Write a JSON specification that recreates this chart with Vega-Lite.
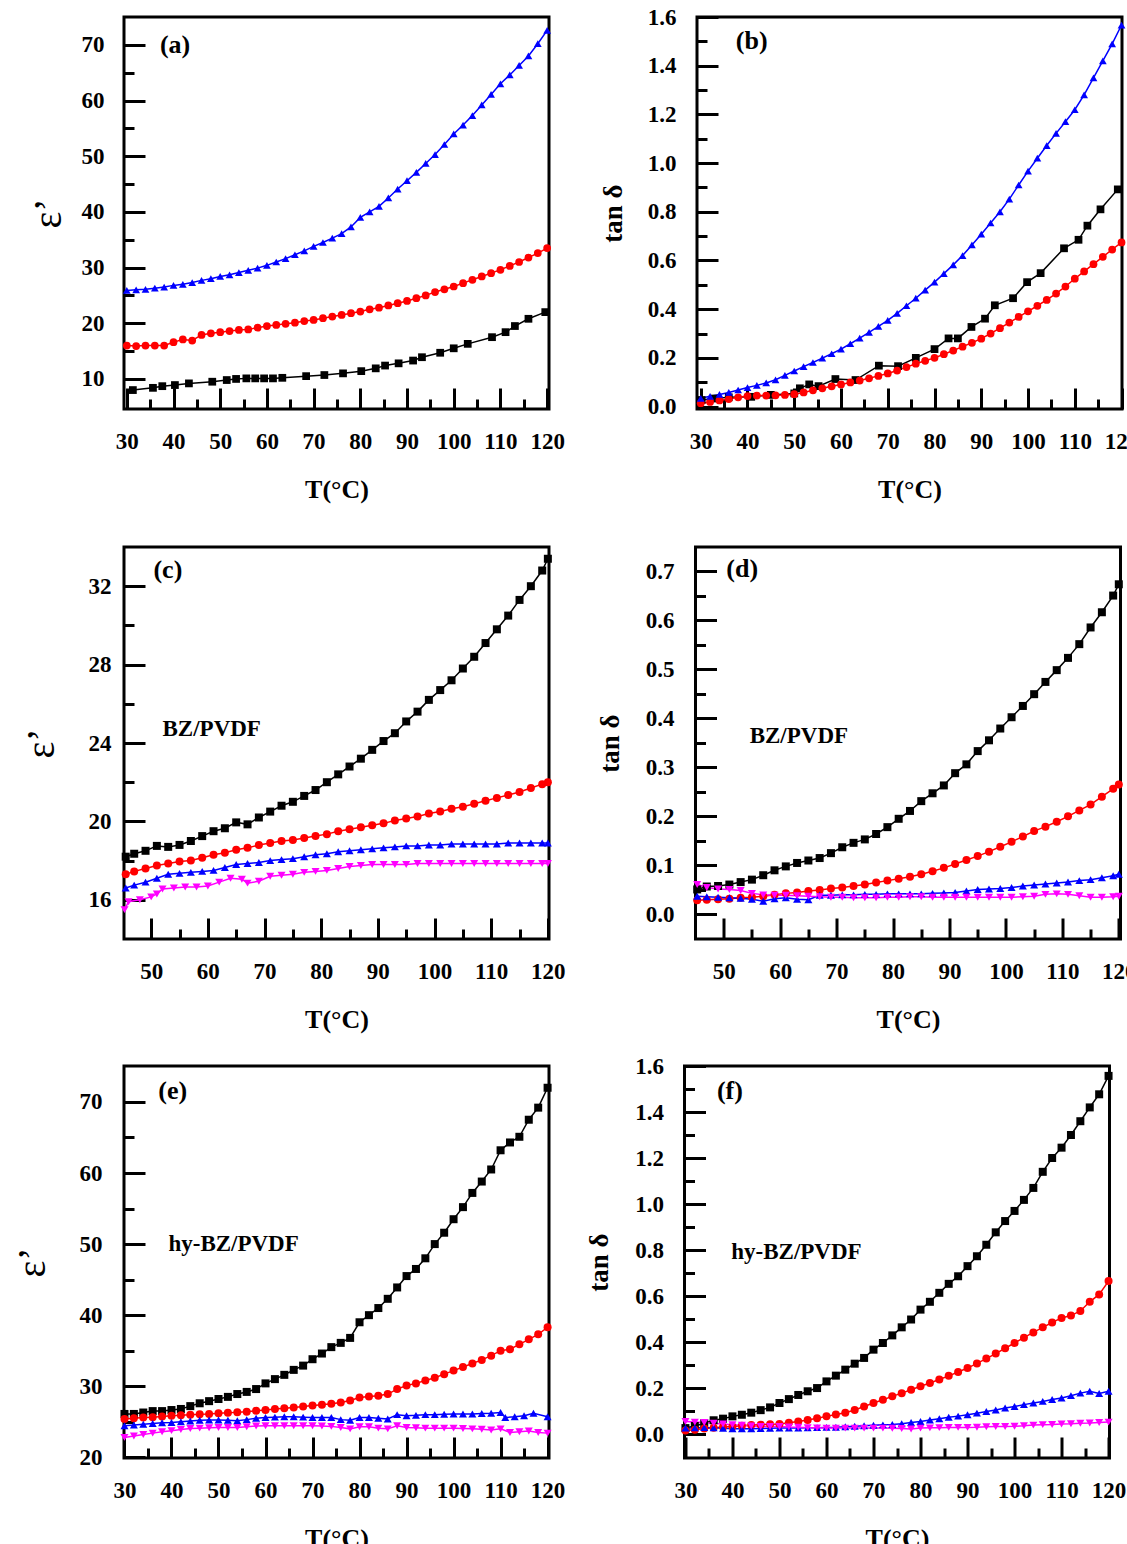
{
"$schema": "https://vega.github.io/schema/vega-lite/v6.json",
"background": "white",
"padding": {"left": 10, "top": 4, "right": 2, "bottom": 2},
"config": {
  "view": {"stroke": "black", "strokeWidth": 3},
  "axis": {"grid": false, "domain": false, "tickColor": "black", "tickWidth": 3, "tickSize": -21, "labelFont": "Liberation Serif", "labelFontWeight": "bold", "labelFontSize": 23, "labelColor": "black", "labelFlush": false, "labelOverlap": false, "titleFont": "Liberation Serif", "titleFontWeight": "bold", "titleColor": "black", "titleFontSize": 26},
  "legend": {"labelFont": "Liberation Serif", "labelFontWeight": "bold", "labelColor": "black", "padding": 0, "symbolSize": 64, "labelOffset": 30.5, "symbolStrokeWidth": 0, "symbolOpacity": 1}
},
"spacing": 41,
"resolve": {"scale": {"color": "independent", "shape": "independent"}, "legend": {"color": "independent", "shape": "independent"}},
"vconcat": [
{
"spacing": 31,
"resolve": {"scale": {"color": "independent", "shape": "independent"}, "legend": {"color": "independent", "shape": "independent"}},
"hconcat": [
{
 "width": 425, "height": 392,
 "data": {"values": [
{"T":31.3,"v":8.0,"s":"Pure PVDF"},{"T":35.6,"v":8.4,"s":"Pure PVDF"},{"T":37.6,"v":8.7,"s":"Pure PVDF"},{"T":40.3,"v":8.9,"s":"Pure PVDF"},{"T":43.3,"v":9.2,"s":"Pure PVDF"},{"T":48.3,"v":9.5,"s":"Pure PVDF"},{"T":51.4,"v":9.8,"s":"Pure PVDF"},{"T":53.4,"v":10.0,"s":"Pure PVDF"},{"T":55.6,"v":10.1,"s":"Pure PVDF"},{"T":57.5,"v":10.1,"s":"Pure PVDF"},{"T":59.4,"v":10.1,"s":"Pure PVDF"},{"T":61.3,"v":10.1,"s":"Pure PVDF"},{"T":63.3,"v":10.2,"s":"Pure PVDF"},{"T":68.4,"v":10.5,"s":"Pure PVDF"},{"T":72.3,"v":10.7,"s":"Pure PVDF"},{"T":76.3,"v":11.0,"s":"Pure PVDF"},{"T":80.2,"v":11.4,"s":"Pure PVDF"},{"T":83.3,"v":11.9,"s":"Pure PVDF"},{"T":85.3,"v":12.4,"s":"Pure PVDF"},{"T":88.2,"v":12.8,"s":"Pure PVDF"},{"T":91.3,"v":13.3,"s":"Pure PVDF"},{"T":93.2,"v":13.9,"s":"Pure PVDF"},{"T":97.1,"v":14.7,"s":"Pure PVDF"},{"T":100,"v":15.5,"s":"Pure PVDF"},{"T":103,"v":16.3,"s":"Pure PVDF"},{"T":108.2,"v":17.5,"s":"Pure PVDF"},{"T":111.1,"v":18.4,"s":"Pure PVDF"},{"T":113.1,"v":19.5,"s":"Pure PVDF"},{"T":116,"v":20.8,"s":"Pure PVDF"},{"T":119.6,"v":22.0,"s":"Pure PVDF"},
{"T":30,"v":16.0,"s":"BZ/PVDF"},{"T":32,"v":15.9,"s":"BZ/PVDF"},{"T":34,"v":16.0,"s":"BZ/PVDF"},{"T":36,"v":16.0,"s":"BZ/PVDF"},{"T":38,"v":16.0,"s":"BZ/PVDF"},{"T":40,"v":16.6,"s":"BZ/PVDF"},{"T":42,"v":17.1,"s":"BZ/PVDF"},{"T":44,"v":16.9,"s":"BZ/PVDF"},{"T":46,"v":17.9,"s":"BZ/PVDF"},{"T":48,"v":18.2,"s":"BZ/PVDF"},{"T":50,"v":18.4,"s":"BZ/PVDF"},{"T":52,"v":18.6,"s":"BZ/PVDF"},{"T":54,"v":18.8,"s":"BZ/PVDF"},{"T":56,"v":18.9,"s":"BZ/PVDF"},{"T":58,"v":19.2,"s":"BZ/PVDF"},{"T":60,"v":19.5,"s":"BZ/PVDF"},{"T":62,"v":19.7,"s":"BZ/PVDF"},{"T":64,"v":19.9,"s":"BZ/PVDF"},{"T":66,"v":20.1,"s":"BZ/PVDF"},{"T":68,"v":20.4,"s":"BZ/PVDF"},{"T":70,"v":20.6,"s":"BZ/PVDF"},{"T":72,"v":20.9,"s":"BZ/PVDF"},{"T":74,"v":21.2,"s":"BZ/PVDF"},{"T":76,"v":21.5,"s":"BZ/PVDF"},{"T":78,"v":21.8,"s":"BZ/PVDF"},{"T":80,"v":22.1,"s":"BZ/PVDF"},{"T":82,"v":22.5,"s":"BZ/PVDF"},{"T":84,"v":22.8,"s":"BZ/PVDF"},{"T":86,"v":23.2,"s":"BZ/PVDF"},{"T":88,"v":23.6,"s":"BZ/PVDF"},{"T":90,"v":24.0,"s":"BZ/PVDF"},{"T":92,"v":24.5,"s":"BZ/PVDF"},{"T":94,"v":25.0,"s":"BZ/PVDF"},{"T":96,"v":25.6,"s":"BZ/PVDF"},{"T":98,"v":26.1,"s":"BZ/PVDF"},{"T":100,"v":26.6,"s":"BZ/PVDF"},{"T":102,"v":27.2,"s":"BZ/PVDF"},{"T":104,"v":27.8,"s":"BZ/PVDF"},{"T":106,"v":28.4,"s":"BZ/PVDF"},{"T":108,"v":29.0,"s":"BZ/PVDF"},{"T":110,"v":29.6,"s":"BZ/PVDF"},{"T":112,"v":30.3,"s":"BZ/PVDF"},{"T":114,"v":31.0,"s":"BZ/PVDF"},{"T":116,"v":31.8,"s":"BZ/PVDF"},{"T":118,"v":32.6,"s":"BZ/PVDF"},{"T":120,"v":33.5,"s":"BZ/PVDF"},
{"T":30,"v":25.9,"s":"hy-BZ/PVDF"},{"T":32,"v":26.0,"s":"hy-BZ/PVDF"},{"T":34,"v":26.1,"s":"hy-BZ/PVDF"},{"T":36,"v":26.3,"s":"hy-BZ/PVDF"},{"T":38,"v":26.5,"s":"hy-BZ/PVDF"},{"T":40,"v":26.8,"s":"hy-BZ/PVDF"},{"T":42,"v":27.0,"s":"hy-BZ/PVDF"},{"T":44,"v":27.3,"s":"hy-BZ/PVDF"},{"T":46,"v":27.7,"s":"hy-BZ/PVDF"},{"T":48,"v":28.0,"s":"hy-BZ/PVDF"},{"T":50,"v":28.4,"s":"hy-BZ/PVDF"},{"T":52,"v":28.7,"s":"hy-BZ/PVDF"},{"T":54,"v":29.1,"s":"hy-BZ/PVDF"},{"T":56,"v":29.5,"s":"hy-BZ/PVDF"},{"T":58,"v":29.9,"s":"hy-BZ/PVDF"},{"T":60,"v":30.4,"s":"hy-BZ/PVDF"},{"T":62,"v":31.0,"s":"hy-BZ/PVDF"},{"T":64,"v":31.6,"s":"hy-BZ/PVDF"},{"T":66,"v":32.3,"s":"hy-BZ/PVDF"},{"T":68,"v":33.0,"s":"hy-BZ/PVDF"},{"T":70,"v":33.8,"s":"hy-BZ/PVDF"},{"T":72,"v":34.5,"s":"hy-BZ/PVDF"},{"T":74,"v":35.3,"s":"hy-BZ/PVDF"},{"T":76,"v":36.1,"s":"hy-BZ/PVDF"},{"T":78,"v":37.3,"s":"hy-BZ/PVDF"},{"T":80,"v":39.0,"s":"hy-BZ/PVDF"},{"T":82,"v":40.0,"s":"hy-BZ/PVDF"},{"T":84,"v":41.0,"s":"hy-BZ/PVDF"},{"T":86,"v":42.5,"s":"hy-BZ/PVDF"},{"T":88,"v":44.1,"s":"hy-BZ/PVDF"},{"T":90,"v":45.6,"s":"hy-BZ/PVDF"},{"T":92,"v":47.1,"s":"hy-BZ/PVDF"},{"T":94,"v":48.7,"s":"hy-BZ/PVDF"},{"T":96,"v":50.3,"s":"hy-BZ/PVDF"},{"T":98,"v":52.1,"s":"hy-BZ/PVDF"},{"T":100,"v":54.0,"s":"hy-BZ/PVDF"},{"T":102,"v":55.6,"s":"hy-BZ/PVDF"},{"T":104,"v":57.3,"s":"hy-BZ/PVDF"},{"T":106,"v":59.2,"s":"hy-BZ/PVDF"},{"T":108,"v":61.1,"s":"hy-BZ/PVDF"},{"T":110,"v":63.0,"s":"hy-BZ/PVDF"},{"T":112,"v":64.6,"s":"hy-BZ/PVDF"},{"T":114,"v":66.3,"s":"hy-BZ/PVDF"},{"T":116,"v":68.0,"s":"hy-BZ/PVDF"},{"T":118,"v":70.2,"s":"hy-BZ/PVDF"},{"T":120,"v":72.6,"s":"hy-BZ/PVDF"}
 ]},
 "encoding": {
  "x": {"field": "T", "type": "quantitative", "scale": {"domain": [29.4, 120.4], "nice": false, "zero": false},
        "axis": {"title": "T(°C)", "values": [30,35,40,45,50,55,60,65,70,75,80,85,90,95,100,105,110,115,120], "labelExpr": "datum.value % 10 === 0 ? datum.label : ''", "tickDash": {"condition": {"test": "datum.value % 10 === 0", "value": [30, 2]}, "value": [10, 40]}, "labelPadding": 42, "minExtent": 45, "maxExtent": 45, "titlePadding": 22}},
  "y": {"field": "v", "type": "quantitative", "scale": {"domain": [4.6, 75], "nice": false, "zero": false},
        "axis": {"title": "ε’", "titleFontSize": 40, "titleFontWeight": "normal", "values": [10,15,20,25,30,35,40,45,50,55,60,65,70], "labelExpr": "datum.value % 10 === 0 ? datum.label : ''", "tickDash": {"condition": {"test": "datum.value % 10 === 0", "value": [30, 2]}, "value": [10, 40]}, "labelPadding": 41, "minExtent": 45, "maxExtent": 45, "titlePadding": 11}}
 },
 "layer": [
  {"mark": {"type": "line", "strokeWidth": 1.5}, "encoding": {"color": {"field": "s", "type": "nominal", "scale": {"domain": ["Pure PVDF","BZ/PVDF","hy-BZ/PVDF"], "range": ["#000000","#ff0000","#0000ff"]}, "legend": null}}},
  {"mark": {"type": "point", "filled": true, "size": 60, "opacity": 1},
   "encoding": {
    "color": {"field": "s", "type": "nominal", "scale": {"domain": ["Pure PVDF","BZ/PVDF","hy-BZ/PVDF"], "range": ["#000000","#ff0000","#0000ff"]},
      "legend": {"title": null, "orient": "none", "legendX": 55.5, "legendY": 40, "labelFontSize": 24, "rowPadding": 8}},
    "shape": {"field": "s", "type": "nominal", "scale": {"domain": ["Pure PVDF","BZ/PVDF","hy-BZ/PVDF"], "range": ["square","circle","triangle-up"]},
      "legend": {"title": null, "orient": "none", "legendX": 55.5, "legendY": 40, "labelFontSize": 24, "rowPadding": 8}}
   }},
  {"data": {"values": [{"T": 37.1, "v": 69.9, "label": "(a)"}]}, "mark": {"type": "text", "font": "Liberation Serif", "fontWeight": "bold", "fontSize": 26, "align": "left", "baseline": "middle", "color": "black"},
   "encoding": {"text": {"field": "label", "type": "nominal"}}}
 ]
},
{
 "width": 425, "height": 392,
 "data": {"values": [
{"T":30.2,"v":0.027,"s":"Pure PVDF"},{"T":33,"v":0.033,"s":"Pure PVDF"},{"T":36,"v":0.038,"s":"Pure PVDF"},{"T":40.8,"v":0.04,"s":"Pure PVDF"},{"T":45,"v":0.048,"s":"Pure PVDF"},{"T":50,"v":0.054,"s":"Pure PVDF"},{"T":51.2,"v":0.075,"s":"Pure PVDF"},{"T":53.2,"v":0.091,"s":"Pure PVDF"},{"T":55.2,"v":0.084,"s":"Pure PVDF"},{"T":58.8,"v":0.113,"s":"Pure PVDF"},{"T":63.1,"v":0.109,"s":"Pure PVDF"},{"T":68.1,"v":0.168,"s":"Pure PVDF"},{"T":72.2,"v":0.166,"s":"Pure PVDF"},{"T":76,"v":0.2,"s":"Pure PVDF"},{"T":80,"v":0.236,"s":"Pure PVDF"},{"T":83,"v":0.28,"s":"Pure PVDF"},{"T":85,"v":0.28,"s":"Pure PVDF"},{"T":87.9,"v":0.327,"s":"Pure PVDF"},{"T":90.8,"v":0.361,"s":"Pure PVDF"},{"T":92.9,"v":0.416,"s":"Pure PVDF"},{"T":96.8,"v":0.445,"s":"Pure PVDF"},{"T":99.8,"v":0.511,"s":"Pure PVDF"},{"T":102.7,"v":0.548,"s":"Pure PVDF"},{"T":107.7,"v":0.65,"s":"Pure PVDF"},{"T":110.8,"v":0.685,"s":"Pure PVDF"},{"T":112.7,"v":0.743,"s":"Pure PVDF"},{"T":115.5,"v":0.81,"s":"Pure PVDF"},{"T":119.2,"v":0.892,"s":"Pure PVDF"},
{"T":30,"v":0.014,"s":"BZ/PVDF"},{"T":32,"v":0.019,"s":"BZ/PVDF"},{"T":34,"v":0.025,"s":"BZ/PVDF"},{"T":36,"v":0.031,"s":"BZ/PVDF"},{"T":38,"v":0.038,"s":"BZ/PVDF"},{"T":40,"v":0.043,"s":"BZ/PVDF"},{"T":42,"v":0.045,"s":"BZ/PVDF"},{"T":44,"v":0.045,"s":"BZ/PVDF"},{"T":46,"v":0.046,"s":"BZ/PVDF"},{"T":48,"v":0.048,"s":"BZ/PVDF"},{"T":50,"v":0.051,"s":"BZ/PVDF"},{"T":52,"v":0.058,"s":"BZ/PVDF"},{"T":54,"v":0.067,"s":"BZ/PVDF"},{"T":56,"v":0.075,"s":"BZ/PVDF"},{"T":58,"v":0.083,"s":"BZ/PVDF"},{"T":60,"v":0.091,"s":"BZ/PVDF"},{"T":62,"v":0.099,"s":"BZ/PVDF"},{"T":64,"v":0.107,"s":"BZ/PVDF"},{"T":66,"v":0.116,"s":"BZ/PVDF"},{"T":68,"v":0.126,"s":"BZ/PVDF"},{"T":70,"v":0.136,"s":"BZ/PVDF"},{"T":72,"v":0.148,"s":"BZ/PVDF"},{"T":74,"v":0.162,"s":"BZ/PVDF"},{"T":76,"v":0.176,"s":"BZ/PVDF"},{"T":78,"v":0.188,"s":"BZ/PVDF"},{"T":80,"v":0.2,"s":"BZ/PVDF"},{"T":82,"v":0.215,"s":"BZ/PVDF"},{"T":84,"v":0.23,"s":"BZ/PVDF"},{"T":86,"v":0.246,"s":"BZ/PVDF"},{"T":88,"v":0.262,"s":"BZ/PVDF"},{"T":90,"v":0.279,"s":"BZ/PVDF"},{"T":92,"v":0.3,"s":"BZ/PVDF"},{"T":94,"v":0.322,"s":"BZ/PVDF"},{"T":96,"v":0.345,"s":"BZ/PVDF"},{"T":98,"v":0.368,"s":"BZ/PVDF"},{"T":100,"v":0.391,"s":"BZ/PVDF"},{"T":102,"v":0.414,"s":"BZ/PVDF"},{"T":104,"v":0.438,"s":"BZ/PVDF"},{"T":106,"v":0.464,"s":"BZ/PVDF"},{"T":108,"v":0.493,"s":"BZ/PVDF"},{"T":110,"v":0.525,"s":"BZ/PVDF"},{"T":112,"v":0.555,"s":"BZ/PVDF"},{"T":114,"v":0.585,"s":"BZ/PVDF"},{"T":116,"v":0.615,"s":"BZ/PVDF"},{"T":118,"v":0.645,"s":"BZ/PVDF"},{"T":120,"v":0.674,"s":"BZ/PVDF"},
{"T":30,"v":0.034,"s":"hy-BZ/PVDF"},{"T":32,"v":0.042,"s":"hy-BZ/PVDF"},{"T":34,"v":0.05,"s":"hy-BZ/PVDF"},{"T":36,"v":0.058,"s":"hy-BZ/PVDF"},{"T":38,"v":0.068,"s":"hy-BZ/PVDF"},{"T":40,"v":0.078,"s":"hy-BZ/PVDF"},{"T":42,"v":0.087,"s":"hy-BZ/PVDF"},{"T":44,"v":0.097,"s":"hy-BZ/PVDF"},{"T":46,"v":0.11,"s":"hy-BZ/PVDF"},{"T":48,"v":0.128,"s":"hy-BZ/PVDF"},{"T":50,"v":0.146,"s":"hy-BZ/PVDF"},{"T":52,"v":0.164,"s":"hy-BZ/PVDF"},{"T":54,"v":0.181,"s":"hy-BZ/PVDF"},{"T":56,"v":0.199,"s":"hy-BZ/PVDF"},{"T":58,"v":0.217,"s":"hy-BZ/PVDF"},{"T":60,"v":0.236,"s":"hy-BZ/PVDF"},{"T":62,"v":0.258,"s":"hy-BZ/PVDF"},{"T":64,"v":0.281,"s":"hy-BZ/PVDF"},{"T":66,"v":0.305,"s":"hy-BZ/PVDF"},{"T":68,"v":0.329,"s":"hy-BZ/PVDF"},{"T":70,"v":0.354,"s":"hy-BZ/PVDF"},{"T":72,"v":0.383,"s":"hy-BZ/PVDF"},{"T":74,"v":0.414,"s":"hy-BZ/PVDF"},{"T":76,"v":0.445,"s":"hy-BZ/PVDF"},{"T":78,"v":0.478,"s":"hy-BZ/PVDF"},{"T":80,"v":0.511,"s":"hy-BZ/PVDF"},{"T":82,"v":0.546,"s":"hy-BZ/PVDF"},{"T":84,"v":0.582,"s":"hy-BZ/PVDF"},{"T":86,"v":0.62,"s":"hy-BZ/PVDF"},{"T":88,"v":0.664,"s":"hy-BZ/PVDF"},{"T":90,"v":0.708,"s":"hy-BZ/PVDF"},{"T":92,"v":0.754,"s":"hy-BZ/PVDF"},{"T":94,"v":0.8,"s":"hy-BZ/PVDF"},{"T":96,"v":0.852,"s":"hy-BZ/PVDF"},{"T":98,"v":0.91,"s":"hy-BZ/PVDF"},{"T":100,"v":0.967,"s":"hy-BZ/PVDF"},{"T":102,"v":1.02,"s":"hy-BZ/PVDF"},{"T":104,"v":1.072,"s":"hy-BZ/PVDF"},{"T":106,"v":1.122,"s":"hy-BZ/PVDF"},{"T":108,"v":1.17,"s":"hy-BZ/PVDF"},{"T":110,"v":1.219,"s":"hy-BZ/PVDF"},{"T":112,"v":1.28,"s":"hy-BZ/PVDF"},{"T":114,"v":1.35,"s":"hy-BZ/PVDF"},{"T":116,"v":1.42,"s":"hy-BZ/PVDF"},{"T":118,"v":1.49,"s":"hy-BZ/PVDF"},{"T":120,"v":1.567,"s":"hy-BZ/PVDF"}
 ]},
 "encoding": {
  "x": {"field": "T", "type": "quantitative", "scale": {"domain": [29.2, 120.1], "nice": false, "zero": false},
        "axis": {"title": "T(°C)", "values": [30,35,40,45,50,55,60,65,70,75,80,85,90,95,100,105,110,115,120], "labelExpr": "datum.value % 10 === 0 ? datum.label : ''", "tickDash": {"condition": {"test": "datum.value % 10 === 0", "value": [30, 2]}, "value": [10, 40]}, "labelPadding": 42, "minExtent": 45, "maxExtent": 45, "titlePadding": 22}},
  "y": {"field": "v", "type": "quantitative", "scale": {"domain": [-0.01, 1.6], "nice": false, "zero": false},
        "axis": {"title": "tan δ", "titleFontSize": 27, "values": [0,0.1,0.2,0.3,0.4,0.5,0.6,0.7,0.8,0.9,1.0,1.1,1.2,1.3,1.4,1.5,1.6], "format": ".1f", "labelExpr": "round(datum.value*10) % 2 === 0 ? datum.label : ''", "tickDash": {"condition": {"test": "round(datum.value*10) % 2 === 0", "value": [30, 2]}, "value": [10, 40]}, "labelPadding": 42, "minExtent": 45, "maxExtent": 45, "titlePadding": 25}}
 },
 "layer": [
  {"mark": {"type": "line", "strokeWidth": 1.5}, "encoding": {"color": {"field": "s", "type": "nominal", "scale": {"domain": ["Pure PVDF","BZ/PVDF","hy-BZ/PVDF"], "range": ["#000000","#ff0000","#0000ff"]}, "legend": null}}},
  {"mark": {"type": "point", "filled": true, "size": 60, "opacity": 1},
   "encoding": {
    "color": {"field": "s", "type": "nominal", "scale": {"domain": ["Pure PVDF","BZ/PVDF","hy-BZ/PVDF"], "range": ["#000000","#ff0000","#0000ff"]},
      "legend": {"title": null, "orient": "none", "legendX": 81.5, "legendY": 53, "labelFontSize": 24, "rowPadding": 8}},
    "shape": {"field": "s", "type": "nominal", "scale": {"domain": ["Pure PVDF","BZ/PVDF","hy-BZ/PVDF"], "range": ["square","circle","triangle-up"]},
      "legend": {"title": null, "orient": "none", "legendX": 81.5, "legendY": 53, "labelFontSize": 24, "rowPadding": 8}}
   }},
  {"data": {"values": [{"T": 37.5, "v": 1.5, "label": "(b)"}]}, "mark": {"type": "text", "font": "Liberation Serif", "fontWeight": "bold", "fontSize": 26, "align": "left", "baseline": "middle", "color": "black"},
   "encoding": {"text": {"field": "label", "type": "nominal"}}}
 ]
}
]
},
{
"spacing": 19,
"resolve": {"scale": {"color": "independent", "shape": "independent"}, "legend": {"color": "independent", "shape": "independent"}},
"vconcat": [
{
"spacing": 27.5,
"resolve": {"scale": {"color": "independent", "shape": "independent"}, "legend": {"color": "independent", "shape": "independent"}},
"hconcat": [
{
 "width": 425, "height": 392,
 "data": {"values": [
{"T":45.5,"v":18.2,"s":"1 KHz"},{"T":47,"v":18.35,"s":"1 KHz"},{"T":49,"v":18.5,"s":"1 KHz"},{"T":51,"v":18.75,"s":"1 KHz"},{"T":53,"v":18.7,"s":"1 KHz"},{"T":55,"v":18.8,"s":"1 KHz"},{"T":57,"v":19.0,"s":"1 KHz"},{"T":59,"v":19.25,"s":"1 KHz"},{"T":61,"v":19.5,"s":"1 KHz"},{"T":63,"v":19.65,"s":"1 KHz"},{"T":65,"v":19.95,"s":"1 KHz"},{"T":67,"v":19.85,"s":"1 KHz"},{"T":69,"v":20.2,"s":"1 KHz"},{"T":71,"v":20.5,"s":"1 KHz"},{"T":73,"v":20.8,"s":"1 KHz"},{"T":75,"v":21.0,"s":"1 KHz"},{"T":77,"v":21.3,"s":"1 KHz"},{"T":79,"v":21.6,"s":"1 KHz"},{"T":81,"v":22.0,"s":"1 KHz"},{"T":83,"v":22.4,"s":"1 KHz"},{"T":85,"v":22.8,"s":"1 KHz"},{"T":87,"v":23.2,"s":"1 KHz"},{"T":89,"v":23.65,"s":"1 KHz"},{"T":91,"v":24.1,"s":"1 KHz"},{"T":93,"v":24.5,"s":"1 KHz"},{"T":95,"v":25.1,"s":"1 KHz"},{"T":97,"v":25.6,"s":"1 KHz"},{"T":99,"v":26.2,"s":"1 KHz"},{"T":101,"v":26.7,"s":"1 KHz"},{"T":103,"v":27.2,"s":"1 KHz"},{"T":105,"v":27.8,"s":"1 KHz"},{"T":107,"v":28.4,"s":"1 KHz"},{"T":109,"v":29.1,"s":"1 KHz"},{"T":111,"v":29.8,"s":"1 KHz"},{"T":113,"v":30.5,"s":"1 KHz"},{"T":115,"v":31.3,"s":"1 KHz"},{"T":117,"v":32.0,"s":"1 KHz"},{"T":119,"v":32.8,"s":"1 KHz"},{"T":120,"v":33.4,"s":"1 KHz"},
{"T":45.5,"v":17.3,"s":"10 KHz"},{"T":47,"v":17.45,"s":"10 KHz"},{"T":49,"v":17.6,"s":"10 KHz"},{"T":51,"v":17.75,"s":"10 KHz"},{"T":53,"v":17.85,"s":"10 KHz"},{"T":55,"v":17.95,"s":"10 KHz"},{"T":57,"v":18.0,"s":"10 KHz"},{"T":59,"v":18.15,"s":"10 KHz"},{"T":61,"v":18.3,"s":"10 KHz"},{"T":63,"v":18.4,"s":"10 KHz"},{"T":65,"v":18.55,"s":"10 KHz"},{"T":67,"v":18.65,"s":"10 KHz"},{"T":69,"v":18.8,"s":"10 KHz"},{"T":71,"v":18.9,"s":"10 KHz"},{"T":73,"v":19.0,"s":"10 KHz"},{"T":75,"v":19.05,"s":"10 KHz"},{"T":77,"v":19.15,"s":"10 KHz"},{"T":79,"v":19.25,"s":"10 KHz"},{"T":81,"v":19.35,"s":"10 KHz"},{"T":83,"v":19.5,"s":"10 KHz"},{"T":85,"v":19.6,"s":"10 KHz"},{"T":87,"v":19.7,"s":"10 KHz"},{"T":89,"v":19.8,"s":"10 KHz"},{"T":91,"v":19.9,"s":"10 KHz"},{"T":93,"v":20.05,"s":"10 KHz"},{"T":95,"v":20.15,"s":"10 KHz"},{"T":97,"v":20.25,"s":"10 KHz"},{"T":99,"v":20.4,"s":"10 KHz"},{"T":101,"v":20.5,"s":"10 KHz"},{"T":103,"v":20.65,"s":"10 KHz"},{"T":105,"v":20.75,"s":"10 KHz"},{"T":107,"v":20.9,"s":"10 KHz"},{"T":109,"v":21.05,"s":"10 KHz"},{"T":111,"v":21.2,"s":"10 KHz"},{"T":113,"v":21.35,"s":"10 KHz"},{"T":115,"v":21.5,"s":"10 KHz"},{"T":117,"v":21.7,"s":"10 KHz"},{"T":119,"v":21.9,"s":"10 KHz"},{"T":120,"v":22.0,"s":"10 KHz"},
{"T":45.5,"v":16.6,"s":"100 KHz"},{"T":47,"v":16.75,"s":"100 KHz"},{"T":49,"v":16.9,"s":"100 KHz"},{"T":51,"v":17.1,"s":"100 KHz"},{"T":53,"v":17.3,"s":"100 KHz"},{"T":55,"v":17.35,"s":"100 KHz"},{"T":57,"v":17.4,"s":"100 KHz"},{"T":59,"v":17.45,"s":"100 KHz"},{"T":61,"v":17.5,"s":"100 KHz"},{"T":63,"v":17.65,"s":"100 KHz"},{"T":65,"v":17.8,"s":"100 KHz"},{"T":67,"v":17.85,"s":"100 KHz"},{"T":69,"v":17.9,"s":"100 KHz"},{"T":71,"v":18.0,"s":"100 KHz"},{"T":73,"v":18.05,"s":"100 KHz"},{"T":75,"v":18.1,"s":"100 KHz"},{"T":77,"v":18.2,"s":"100 KHz"},{"T":79,"v":18.3,"s":"100 KHz"},{"T":81,"v":18.35,"s":"100 KHz"},{"T":83,"v":18.45,"s":"100 KHz"},{"T":85,"v":18.5,"s":"100 KHz"},{"T":87,"v":18.55,"s":"100 KHz"},{"T":89,"v":18.6,"s":"100 KHz"},{"T":91,"v":18.65,"s":"100 KHz"},{"T":93,"v":18.7,"s":"100 KHz"},{"T":95,"v":18.75,"s":"100 KHz"},{"T":97,"v":18.75,"s":"100 KHz"},{"T":99,"v":18.8,"s":"100 KHz"},{"T":101,"v":18.8,"s":"100 KHz"},{"T":103,"v":18.85,"s":"100 KHz"},{"T":105,"v":18.85,"s":"100 KHz"},{"T":107,"v":18.85,"s":"100 KHz"},{"T":109,"v":18.85,"s":"100 KHz"},{"T":111,"v":18.85,"s":"100 KHz"},{"T":113,"v":18.9,"s":"100 KHz"},{"T":115,"v":18.9,"s":"100 KHz"},{"T":117,"v":18.9,"s":"100 KHz"},{"T":119,"v":18.9,"s":"100 KHz"},{"T":120,"v":18.9,"s":"100 KHz"},
{"T":45.3,"v":15.5,"s":"1 MHz"},{"T":46,"v":15.9,"s":"1 MHz"},{"T":48,"v":16.0,"s":"1 MHz"},{"T":50,"v":16.15,"s":"1 MHz"},{"T":51,"v":16.3,"s":"1 MHz"},{"T":52,"v":16.55,"s":"1 MHz"},{"T":54,"v":16.6,"s":"1 MHz"},{"T":56,"v":16.65,"s":"1 MHz"},{"T":58,"v":16.65,"s":"1 MHz"},{"T":60,"v":16.7,"s":"1 MHz"},{"T":62,"v":16.9,"s":"1 MHz"},{"T":64,"v":17.1,"s":"1 MHz"},{"T":66,"v":17.05,"s":"1 MHz"},{"T":67,"v":16.85,"s":"1 MHz"},{"T":69,"v":16.95,"s":"1 MHz"},{"T":71,"v":17.2,"s":"1 MHz"},{"T":73,"v":17.25,"s":"1 MHz"},{"T":75,"v":17.3,"s":"1 MHz"},{"T":77,"v":17.4,"s":"1 MHz"},{"T":79,"v":17.45,"s":"1 MHz"},{"T":81,"v":17.5,"s":"1 MHz"},{"T":83,"v":17.6,"s":"1 MHz"},{"T":85,"v":17.7,"s":"1 MHz"},{"T":87,"v":17.75,"s":"1 MHz"},{"T":89,"v":17.8,"s":"1 MHz"},{"T":91,"v":17.8,"s":"1 MHz"},{"T":93,"v":17.8,"s":"1 MHz"},{"T":95,"v":17.8,"s":"1 MHz"},{"T":97,"v":17.85,"s":"1 MHz"},{"T":99,"v":17.85,"s":"1 MHz"},{"T":101,"v":17.85,"s":"1 MHz"},{"T":103,"v":17.85,"s":"1 MHz"},{"T":105,"v":17.85,"s":"1 MHz"},{"T":107,"v":17.85,"s":"1 MHz"},{"T":109,"v":17.85,"s":"1 MHz"},{"T":111,"v":17.85,"s":"1 MHz"},{"T":113,"v":17.85,"s":"1 MHz"},{"T":115,"v":17.85,"s":"1 MHz"},{"T":117,"v":17.85,"s":"1 MHz"},{"T":119,"v":17.85,"s":"1 MHz"},{"T":120,"v":17.85,"s":"1 MHz"}
 ]},
 "encoding": {
  "x": {"field": "T", "type": "quantitative", "scale": {"domain": [45.2, 120.2], "nice": false, "zero": false},
        "axis": {"title": "T(°C)", "values": [50,55,60,65,70,75,80,85,90,95,100,105,110,115,120], "labelExpr": "datum.value % 10 === 0 ? datum.label : ''", "tickDash": {"condition": {"test": "datum.value % 10 === 0", "value": [30, 2]}, "value": [10, 40]}, "labelPadding": 42, "minExtent": 45, "maxExtent": 45, "titlePadding": 22}},
  "y": {"field": "v", "type": "quantitative", "scale": {"domain": [14, 34], "nice": false, "zero": false},
        "axis": {"title": "ε’", "titleFontSize": 40, "titleFontWeight": "normal", "values": [16,18,20,22,24,26,28,30,32], "labelExpr": "datum.value % 4 === 0 ? datum.label : ''", "tickDash": {"condition": {"test": "datum.value % 4 === 0", "value": [30, 2]}, "value": [10, 40]}, "labelPadding": 34, "minExtent": 45, "maxExtent": 45, "titlePadding": 18}}
 },
 "layer": [
  {"mark": {"type": "line", "strokeWidth": 1.5}, "encoding": {"color": {"field": "s", "type": "nominal", "scale": {"domain": ["1 KHz","10 KHz","100 KHz","1 MHz"], "range": ["#000000","#ff0000","#0000ff","#ff00ff"]}, "legend": null}}},
  {"mark": {"type": "point", "filled": true, "size": 64, "opacity": 1},
   "encoding": {
    "color": {"field": "s", "type": "nominal", "scale": {"domain": ["1 KHz","10 KHz","100 KHz","1 MHz"], "range": ["#000000","#ff0000","#0000ff","#ff00ff"]},
      "legend": {"title": null, "orient": "none", "legendX": 175.5, "legendY": 15, "labelFontSize": 20, "rowPadding": 11}},
    "shape": {"field": "s", "type": "nominal", "scale": {"domain": ["1 KHz","10 KHz","100 KHz","1 MHz"], "range": ["square","circle","triangle-up","triangle-down"]},
      "legend": {"title": null, "orient": "none", "legendX": 175.5, "legendY": 15, "labelFontSize": 20, "rowPadding": 11}}
   }},
  {"data": {"values": [{"T": 50.4, "v": 32.85, "label": "(c)"}]}, "mark": {"type": "text", "font": "Liberation Serif", "fontWeight": "bold", "fontSize": 26, "align": "left", "baseline": "middle", "color": "black"},
   "encoding": {"text": {"field": "label", "type": "nominal"}}},
  {"data": {"values": [{"T": 52.0, "v": 24.7, "label": "BZ/PVDF"}]}, "mark": {"type": "text", "font": "Liberation Serif", "fontWeight": "bold", "fontSize": 23, "align": "left", "baseline": "middle", "color": "black"},
   "encoding": {"text": {"field": "label", "type": "nominal"}}}
 ]
},
{
 "width": 425, "height": 392,
 "data": {"values": [
{"T":45.3,"v":0.051,"s":"1 KHz"},{"T":47,"v":0.057,"s":"1 KHz"},{"T":49,"v":0.058,"s":"1 KHz"},{"T":51,"v":0.061,"s":"1 KHz"},{"T":53,"v":0.066,"s":"1 KHz"},{"T":55,"v":0.071,"s":"1 KHz"},{"T":57,"v":0.08,"s":"1 KHz"},{"T":59,"v":0.09,"s":"1 KHz"},{"T":61,"v":0.098,"s":"1 KHz"},{"T":63,"v":0.105,"s":"1 KHz"},{"T":65,"v":0.11,"s":"1 KHz"},{"T":67,"v":0.115,"s":"1 KHz"},{"T":69,"v":0.125,"s":"1 KHz"},{"T":71,"v":0.137,"s":"1 KHz"},{"T":73,"v":0.146,"s":"1 KHz"},{"T":75,"v":0.153,"s":"1 KHz"},{"T":77,"v":0.164,"s":"1 KHz"},{"T":79,"v":0.178,"s":"1 KHz"},{"T":81,"v":0.195,"s":"1 KHz"},{"T":83,"v":0.211,"s":"1 KHz"},{"T":85,"v":0.231,"s":"1 KHz"},{"T":87,"v":0.247,"s":"1 KHz"},{"T":89,"v":0.263,"s":"1 KHz"},{"T":91,"v":0.288,"s":"1 KHz"},{"T":93,"v":0.306,"s":"1 KHz"},{"T":95,"v":0.333,"s":"1 KHz"},{"T":97,"v":0.355,"s":"1 KHz"},{"T":99,"v":0.379,"s":"1 KHz"},{"T":101,"v":0.402,"s":"1 KHz"},{"T":103,"v":0.425,"s":"1 KHz"},{"T":105,"v":0.449,"s":"1 KHz"},{"T":107,"v":0.474,"s":"1 KHz"},{"T":109,"v":0.498,"s":"1 KHz"},{"T":111,"v":0.523,"s":"1 KHz"},{"T":113,"v":0.551,"s":"1 KHz"},{"T":115,"v":0.585,"s":"1 KHz"},{"T":117,"v":0.616,"s":"1 KHz"},{"T":119,"v":0.65,"s":"1 KHz"},{"T":120,"v":0.673,"s":"1 KHz"},
{"T":45.3,"v":0.029,"s":"10 KHz"},{"T":47,"v":0.03,"s":"10 KHz"},{"T":49,"v":0.031,"s":"10 KHz"},{"T":51,"v":0.032,"s":"10 KHz"},{"T":53,"v":0.034,"s":"10 KHz"},{"T":55,"v":0.035,"s":"10 KHz"},{"T":57,"v":0.037,"s":"10 KHz"},{"T":59,"v":0.04,"s":"10 KHz"},{"T":61,"v":0.043,"s":"10 KHz"},{"T":63,"v":0.045,"s":"10 KHz"},{"T":65,"v":0.048,"s":"10 KHz"},{"T":67,"v":0.05,"s":"10 KHz"},{"T":69,"v":0.053,"s":"10 KHz"},{"T":71,"v":0.055,"s":"10 KHz"},{"T":73,"v":0.058,"s":"10 KHz"},{"T":75,"v":0.061,"s":"10 KHz"},{"T":77,"v":0.065,"s":"10 KHz"},{"T":79,"v":0.069,"s":"10 KHz"},{"T":81,"v":0.073,"s":"10 KHz"},{"T":83,"v":0.077,"s":"10 KHz"},{"T":85,"v":0.082,"s":"10 KHz"},{"T":87,"v":0.088,"s":"10 KHz"},{"T":89,"v":0.095,"s":"10 KHz"},{"T":91,"v":0.103,"s":"10 KHz"},{"T":93,"v":0.111,"s":"10 KHz"},{"T":95,"v":0.119,"s":"10 KHz"},{"T":97,"v":0.128,"s":"10 KHz"},{"T":99,"v":0.138,"s":"10 KHz"},{"T":101,"v":0.148,"s":"10 KHz"},{"T":103,"v":0.159,"s":"10 KHz"},{"T":105,"v":0.17,"s":"10 KHz"},{"T":107,"v":0.179,"s":"10 KHz"},{"T":109,"v":0.189,"s":"10 KHz"},{"T":111,"v":0.2,"s":"10 KHz"},{"T":113,"v":0.212,"s":"10 KHz"},{"T":115,"v":0.224,"s":"10 KHz"},{"T":117,"v":0.24,"s":"10 KHz"},{"T":119,"v":0.256,"s":"10 KHz"},{"T":120,"v":0.265,"s":"10 KHz"},
{"T":45.3,"v":0.037,"s":"100 KHz"},{"T":47,"v":0.036,"s":"100 KHz"},{"T":49,"v":0.035,"s":"100 KHz"},{"T":51,"v":0.034,"s":"100 KHz"},{"T":53,"v":0.033,"s":"100 KHz"},{"T":55,"v":0.031,"s":"100 KHz"},{"T":57,"v":0.027,"s":"100 KHz"},{"T":59,"v":0.032,"s":"100 KHz"},{"T":61,"v":0.034,"s":"100 KHz"},{"T":63,"v":0.031,"s":"100 KHz"},{"T":65,"v":0.03,"s":"100 KHz"},{"T":67,"v":0.039,"s":"100 KHz"},{"T":69,"v":0.039,"s":"100 KHz"},{"T":71,"v":0.04,"s":"100 KHz"},{"T":73,"v":0.04,"s":"100 KHz"},{"T":75,"v":0.041,"s":"100 KHz"},{"T":77,"v":0.041,"s":"100 KHz"},{"T":79,"v":0.042,"s":"100 KHz"},{"T":81,"v":0.042,"s":"100 KHz"},{"T":83,"v":0.042,"s":"100 KHz"},{"T":85,"v":0.042,"s":"100 KHz"},{"T":87,"v":0.043,"s":"100 KHz"},{"T":89,"v":0.044,"s":"100 KHz"},{"T":91,"v":0.045,"s":"100 KHz"},{"T":93,"v":0.048,"s":"100 KHz"},{"T":95,"v":0.051,"s":"100 KHz"},{"T":97,"v":0.052,"s":"100 KHz"},{"T":99,"v":0.053,"s":"100 KHz"},{"T":101,"v":0.055,"s":"100 KHz"},{"T":103,"v":0.058,"s":"100 KHz"},{"T":105,"v":0.06,"s":"100 KHz"},{"T":107,"v":0.062,"s":"100 KHz"},{"T":109,"v":0.064,"s":"100 KHz"},{"T":111,"v":0.066,"s":"100 KHz"},{"T":113,"v":0.069,"s":"100 KHz"},{"T":115,"v":0.071,"s":"100 KHz"},{"T":117,"v":0.075,"s":"100 KHz"},{"T":119,"v":0.079,"s":"100 KHz"},{"T":120,"v":0.082,"s":"100 KHz"},
{"T":45.3,"v":0.061,"s":"1 MHz"},{"T":47,"v":0.055,"s":"1 MHz"},{"T":49,"v":0.052,"s":"1 MHz"},{"T":51,"v":0.051,"s":"1 MHz"},{"T":53,"v":0.049,"s":"1 MHz"},{"T":55,"v":0.043,"s":"1 MHz"},{"T":57,"v":0.04,"s":"1 MHz"},{"T":59,"v":0.039,"s":"1 MHz"},{"T":61,"v":0.039,"s":"1 MHz"},{"T":63,"v":0.038,"s":"1 MHz"},{"T":65,"v":0.037,"s":"1 MHz"},{"T":67,"v":0.036,"s":"1 MHz"},{"T":69,"v":0.035,"s":"1 MHz"},{"T":71,"v":0.035,"s":"1 MHz"},{"T":73,"v":0.034,"s":"1 MHz"},{"T":75,"v":0.034,"s":"1 MHz"},{"T":77,"v":0.034,"s":"1 MHz"},{"T":79,"v":0.035,"s":"1 MHz"},{"T":81,"v":0.035,"s":"1 MHz"},{"T":83,"v":0.036,"s":"1 MHz"},{"T":85,"v":0.036,"s":"1 MHz"},{"T":87,"v":0.035,"s":"1 MHz"},{"T":89,"v":0.035,"s":"1 MHz"},{"T":91,"v":0.035,"s":"1 MHz"},{"T":93,"v":0.035,"s":"1 MHz"},{"T":95,"v":0.035,"s":"1 MHz"},{"T":97,"v":0.035,"s":"1 MHz"},{"T":99,"v":0.035,"s":"1 MHz"},{"T":101,"v":0.035,"s":"1 MHz"},{"T":103,"v":0.036,"s":"1 MHz"},{"T":105,"v":0.037,"s":"1 MHz"},{"T":107,"v":0.041,"s":"1 MHz"},{"T":109,"v":0.042,"s":"1 MHz"},{"T":111,"v":0.041,"s":"1 MHz"},{"T":113,"v":0.038,"s":"1 MHz"},{"T":115,"v":0.035,"s":"1 MHz"},{"T":117,"v":0.035,"s":"1 MHz"},{"T":119,"v":0.036,"s":"1 MHz"},{"T":120,"v":0.037,"s":"1 MHz"}
 ]},
 "encoding": {
  "x": {"field": "T", "type": "quantitative", "scale": {"domain": [45.0, 120.3], "nice": false, "zero": false},
        "axis": {"title": "T(°C)", "values": [50,55,60,65,70,75,80,85,90,95,100,105,110,115,120], "labelExpr": "datum.value % 10 === 0 ? datum.label : ''", "tickDash": {"condition": {"test": "datum.value % 10 === 0", "value": [30, 2]}, "value": [10, 40]}, "labelPadding": 42, "minExtent": 45, "maxExtent": 45, "titlePadding": 22}},
  "y": {"field": "v", "type": "quantitative", "scale": {"domain": [-0.05, 0.749], "nice": false, "zero": false},
        "axis": {"title": "tan δ", "titleFontSize": 27, "values": [0,0.05,0.1,0.15,0.2,0.25,0.3,0.35,0.4,0.45,0.5,0.55,0.6,0.65,0.7], "format": ".1f", "labelExpr": "round(datum.value*100) % 10 === 0 ? datum.label : ''", "tickDash": {"condition": {"test": "round(datum.value*100) % 10 === 0", "value": [30, 2]}, "value": [10, 40]}, "labelPadding": 42.5, "minExtent": 45, "maxExtent": 45, "titlePadding": 26.5}}
 },
 "layer": [
  {"mark": {"type": "line", "strokeWidth": 1.5}, "encoding": {"color": {"field": "s", "type": "nominal", "scale": {"domain": ["1 KHz","10 KHz","100 KHz","1 MHz"], "range": ["#000000","#ff0000","#0000ff","#ff00ff"]}, "legend": null}}},
  {"mark": {"type": "point", "filled": true, "size": 64, "opacity": 1},
   "encoding": {
    "color": {"field": "s", "type": "nominal", "scale": {"domain": ["1 KHz","10 KHz","100 KHz","1 MHz"], "range": ["#000000","#ff0000","#0000ff","#ff00ff"]},
      "legend": {"title": null, "orient": "none", "legendX": 189.5, "legendY": 9, "labelFontSize": 20, "rowPadding": 11}},
    "shape": {"field": "s", "type": "nominal", "scale": {"domain": ["1 KHz","10 KHz","100 KHz","1 MHz"], "range": ["square","circle","triangle-up","triangle-down"]},
      "legend": {"title": null, "orient": "none", "legendX": 189.5, "legendY": 9, "labelFontSize": 20, "rowPadding": 11}}
   }},
  {"data": {"values": [{"T": 50.45, "v": 0.704, "label": "(d)"}]}, "mark": {"type": "text", "font": "Liberation Serif", "fontWeight": "bold", "fontSize": 26, "align": "left", "baseline": "middle", "color": "black"},
   "encoding": {"text": {"field": "label", "type": "nominal"}}},
  {"data": {"values": [{"T": 54.6, "v": 0.364, "label": "BZ/PVDF"}]}, "mark": {"type": "text", "font": "Liberation Serif", "fontWeight": "bold", "fontSize": 23, "align": "left", "baseline": "middle", "color": "black"},
   "encoding": {"text": {"field": "label", "type": "nominal"}}}
 ]
}
]
},
{
"spacing": 16.5,
"resolve": {"scale": {"color": "independent", "shape": "independent"}, "legend": {"color": "independent", "shape": "independent"}},
"hconcat": [
{
 "width": 425, "height": 392,
 "data": {"values": [
{"T":30,"v":26.1,"s":"1 KHZ"},{"T":32,"v":26.1,"s":"1 KHZ"},{"T":34,"v":26.3,"s":"1 KHZ"},{"T":36,"v":26.5,"s":"1 KHZ"},{"T":38,"v":26.5,"s":"1 KHZ"},{"T":40,"v":26.65,"s":"1 KHZ"},{"T":42,"v":26.8,"s":"1 KHZ"},{"T":44,"v":27.2,"s":"1 KHZ"},{"T":46,"v":27.6,"s":"1 KHZ"},{"T":48,"v":27.9,"s":"1 KHZ"},{"T":50,"v":28.2,"s":"1 KHZ"},{"T":52,"v":28.5,"s":"1 KHZ"},{"T":54,"v":28.9,"s":"1 KHZ"},{"T":56,"v":29.2,"s":"1 KHZ"},{"T":58,"v":29.6,"s":"1 KHZ"},{"T":60,"v":30.4,"s":"1 KHZ"},{"T":62,"v":31.0,"s":"1 KHZ"},{"T":64,"v":31.6,"s":"1 KHZ"},{"T":66,"v":32.3,"s":"1 KHZ"},{"T":68,"v":32.9,"s":"1 KHZ"},{"T":70,"v":33.8,"s":"1 KHZ"},{"T":72,"v":34.6,"s":"1 KHZ"},{"T":74,"v":35.5,"s":"1 KHZ"},{"T":76,"v":36.1,"s":"1 KHZ"},{"T":78,"v":36.8,"s":"1 KHZ"},{"T":80,"v":39.0,"s":"1 KHZ"},{"T":82,"v":40.0,"s":"1 KHZ"},{"T":84,"v":41.0,"s":"1 KHZ"},{"T":86,"v":42.3,"s":"1 KHZ"},{"T":88,"v":43.9,"s":"1 KHZ"},{"T":90,"v":45.5,"s":"1 KHZ"},{"T":92,"v":46.5,"s":"1 KHZ"},{"T":94,"v":48.0,"s":"1 KHZ"},{"T":96,"v":50.0,"s":"1 KHZ"},{"T":98,"v":51.6,"s":"1 KHZ"},{"T":100,"v":53.5,"s":"1 KHZ"},{"T":102,"v":55.2,"s":"1 KHZ"},{"T":104,"v":57.2,"s":"1 KHZ"},{"T":106,"v":58.8,"s":"1 KHZ"},{"T":108,"v":60.5,"s":"1 KHZ"},{"T":110,"v":63.2,"s":"1 KHZ"},{"T":112,"v":64.3,"s":"1 KHZ"},{"T":114,"v":65.1,"s":"1 KHZ"},{"T":116,"v":67.5,"s":"1 KHZ"},{"T":118,"v":69.2,"s":"1 KHZ"},{"T":120,"v":72.0,"s":"1 KHZ"},
{"T":30,"v":25.4,"s":"10 KHz"},{"T":32,"v":25.5,"s":"10 KHz"},{"T":34,"v":25.6,"s":"10 KHz"},{"T":36,"v":25.65,"s":"10 KHz"},{"T":38,"v":25.75,"s":"10 KHz"},{"T":40,"v":25.85,"s":"10 KHz"},{"T":42,"v":25.9,"s":"10 KHz"},{"T":44,"v":26.0,"s":"10 KHz"},{"T":46,"v":26.05,"s":"10 KHz"},{"T":48,"v":26.1,"s":"10 KHz"},{"T":50,"v":26.2,"s":"10 KHz"},{"T":52,"v":26.25,"s":"10 KHz"},{"T":54,"v":26.35,"s":"10 KHz"},{"T":56,"v":26.4,"s":"10 KHz"},{"T":58,"v":26.55,"s":"10 KHz"},{"T":60,"v":26.65,"s":"10 KHz"},{"T":62,"v":26.8,"s":"10 KHz"},{"T":64,"v":26.9,"s":"10 KHz"},{"T":66,"v":27.0,"s":"10 KHz"},{"T":68,"v":27.15,"s":"10 KHz"},{"T":70,"v":27.3,"s":"10 KHz"},{"T":72,"v":27.4,"s":"10 KHz"},{"T":74,"v":27.55,"s":"10 KHz"},{"T":76,"v":27.7,"s":"10 KHz"},{"T":78,"v":28.0,"s":"10 KHz"},{"T":80,"v":28.4,"s":"10 KHz"},{"T":82,"v":28.55,"s":"10 KHz"},{"T":84,"v":28.65,"s":"10 KHz"},{"T":86,"v":28.9,"s":"10 KHz"},{"T":88,"v":29.6,"s":"10 KHz"},{"T":90,"v":30.1,"s":"10 KHz"},{"T":92,"v":30.4,"s":"10 KHz"},{"T":94,"v":30.8,"s":"10 KHz"},{"T":96,"v":31.2,"s":"10 KHz"},{"T":98,"v":31.7,"s":"10 KHz"},{"T":100,"v":32.2,"s":"10 KHz"},{"T":102,"v":32.7,"s":"10 KHz"},{"T":104,"v":33.2,"s":"10 KHz"},{"T":106,"v":33.7,"s":"10 KHz"},{"T":108,"v":34.3,"s":"10 KHz"},{"T":110,"v":35.0,"s":"10 KHz"},{"T":112,"v":35.2,"s":"10 KHz"},{"T":114,"v":35.9,"s":"10 KHz"},{"T":116,"v":36.6,"s":"10 KHz"},{"T":118,"v":37.3,"s":"10 KHz"},{"T":120,"v":38.3,"s":"10 KHz"},
{"T":30,"v":24.45,"s":"100 KHZ"},{"T":32,"v":24.55,"s":"100 KHZ"},{"T":34,"v":24.65,"s":"100 KHZ"},{"T":36,"v":24.75,"s":"100 KHZ"},{"T":38,"v":24.85,"s":"100 KHZ"},{"T":40,"v":24.9,"s":"100 KHZ"},{"T":42,"v":25.0,"s":"100 KHZ"},{"T":44,"v":25.1,"s":"100 KHZ"},{"T":46,"v":25.2,"s":"100 KHZ"},{"T":48,"v":25.25,"s":"100 KHZ"},{"T":50,"v":25.25,"s":"100 KHZ"},{"T":52,"v":25.2,"s":"100 KHZ"},{"T":54,"v":25.15,"s":"100 KHZ"},{"T":56,"v":25.3,"s":"100 KHZ"},{"T":58,"v":25.5,"s":"100 KHZ"},{"T":60,"v":25.6,"s":"100 KHZ"},{"T":62,"v":25.65,"s":"100 KHZ"},{"T":64,"v":25.7,"s":"100 KHZ"},{"T":66,"v":25.7,"s":"100 KHZ"},{"T":68,"v":25.65,"s":"100 KHZ"},{"T":70,"v":25.6,"s":"100 KHZ"},{"T":72,"v":25.6,"s":"100 KHZ"},{"T":74,"v":25.6,"s":"100 KHZ"},{"T":76,"v":25.3,"s":"100 KHZ"},{"T":78,"v":25.2,"s":"100 KHZ"},{"T":80,"v":25.6,"s":"100 KHZ"},{"T":82,"v":25.6,"s":"100 KHZ"},{"T":84,"v":25.5,"s":"100 KHZ"},{"T":86,"v":25.4,"s":"100 KHZ"},{"T":88,"v":26.0,"s":"100 KHZ"},{"T":90,"v":25.85,"s":"100 KHZ"},{"T":92,"v":25.9,"s":"100 KHZ"},{"T":94,"v":26.0,"s":"100 KHZ"},{"T":96,"v":26.0,"s":"100 KHZ"},{"T":98,"v":26.05,"s":"100 KHZ"},{"T":100,"v":26.1,"s":"100 KHZ"},{"T":102,"v":26.1,"s":"100 KHZ"},{"T":104,"v":26.1,"s":"100 KHZ"},{"T":106,"v":26.15,"s":"100 KHZ"},{"T":108,"v":26.2,"s":"100 KHZ"},{"T":110,"v":26.3,"s":"100 KHZ"},{"T":111,"v":25.6,"s":"100 KHZ"},{"T":113,"v":25.7,"s":"100 KHZ"},{"T":115,"v":25.85,"s":"100 KHZ"},{"T":117,"v":26.2,"s":"100 KHZ"},{"T":120,"v":25.7,"s":"100 KHZ"},
{"T":30,"v":22.8,"s":"1 MHz"},{"T":32,"v":23.0,"s":"1 MHz"},{"T":34,"v":23.2,"s":"1 MHz"},{"T":36,"v":23.4,"s":"1 MHz"},{"T":38,"v":23.6,"s":"1 MHz"},{"T":40,"v":23.75,"s":"1 MHz"},{"T":42,"v":23.9,"s":"1 MHz"},{"T":44,"v":24.05,"s":"1 MHz"},{"T":46,"v":24.1,"s":"1 MHz"},{"T":48,"v":24.15,"s":"1 MHz"},{"T":50,"v":24.2,"s":"1 MHz"},{"T":52,"v":24.2,"s":"1 MHz"},{"T":54,"v":24.2,"s":"1 MHz"},{"T":56,"v":24.3,"s":"1 MHz"},{"T":58,"v":24.4,"s":"1 MHz"},{"T":60,"v":24.45,"s":"1 MHz"},{"T":62,"v":24.45,"s":"1 MHz"},{"T":64,"v":24.45,"s":"1 MHz"},{"T":66,"v":24.45,"s":"1 MHz"},{"T":68,"v":24.45,"s":"1 MHz"},{"T":70,"v":24.45,"s":"1 MHz"},{"T":72,"v":24.4,"s":"1 MHz"},{"T":74,"v":24.35,"s":"1 MHz"},{"T":76,"v":24.2,"s":"1 MHz"},{"T":78,"v":24.0,"s":"1 MHz"},{"T":80,"v":24.3,"s":"1 MHz"},{"T":82,"v":24.3,"s":"1 MHz"},{"T":84,"v":24.1,"s":"1 MHz"},{"T":86,"v":24.0,"s":"1 MHz"},{"T":88,"v":24.45,"s":"1 MHz"},{"T":90,"v":24.2,"s":"1 MHz"},{"T":92,"v":24.15,"s":"1 MHz"},{"T":94,"v":24.1,"s":"1 MHz"},{"T":96,"v":24.1,"s":"1 MHz"},{"T":98,"v":24.1,"s":"1 MHz"},{"T":100,"v":24.1,"s":"1 MHz"},{"T":102,"v":24.05,"s":"1 MHz"},{"T":104,"v":24.0,"s":"1 MHz"},{"T":106,"v":23.95,"s":"1 MHz"},{"T":108,"v":23.85,"s":"1 MHz"},{"T":110,"v":24.0,"s":"1 MHz"},{"T":112,"v":23.5,"s":"1 MHz"},{"T":114,"v":23.6,"s":"1 MHz"},{"T":116,"v":23.7,"s":"1 MHz"},{"T":118,"v":23.5,"s":"1 MHz"},{"T":120,"v":23.4,"s":"1 MHz"}
 ]},
 "encoding": {
  "x": {"field": "T", "type": "quantitative", "scale": {"domain": [29.9, 120.3], "nice": false, "zero": false},
        "axis": {"title": "T(°C)", "values": [30,35,40,45,50,55,60,65,70,75,80,85,90,95,100,105,110,115,120], "labelExpr": "datum.value % 10 === 0 ? datum.label : ''", "tickDash": {"condition": {"test": "datum.value % 10 === 0", "value": [30, 2]}, "value": [10, 40]}, "labelPadding": 42, "minExtent": 45, "maxExtent": 45, "titlePadding": 22}},
  "y": {"field": "v", "type": "quantitative", "scale": {"domain": [19.9, 75.06], "nice": false, "zero": false},
        "axis": {"title": "ε’", "titleFontSize": 40, "titleFontWeight": "normal", "values": [20,25,30,35,40,45,50,55,60,65,70], "labelExpr": "datum.value % 10 === 0 ? datum.label : ''", "tickDash": {"condition": {"test": "datum.value % 10 === 0", "value": [30, 2]}, "value": [10, 40]}, "labelPadding": 43, "minExtent": 45, "maxExtent": 45, "titlePadding": 27}}
 },
 "layer": [
  {"mark": {"type": "line", "strokeWidth": 1.5}, "encoding": {"color": {"field": "s", "type": "nominal", "scale": {"domain": ["1 KHZ","10 KHz","100 KHZ","1 MHz"], "range": ["#000000","#ff0000","#0000ff","#ff00ff"]}, "legend": null}}},
  {"mark": {"type": "point", "filled": true, "size": 64, "opacity": 1},
   "encoding": {
    "color": {"field": "s", "type": "nominal", "scale": {"domain": ["1 KHZ","10 KHz","100 KHZ","1 MHz"], "range": ["#000000","#ff0000","#0000ff","#ff00ff"]},
      "legend": {"title": null, "orient": "none", "legendX": 145.5, "legendY": 18, "labelFontSize": 20, "rowPadding": 11}},
    "shape": {"field": "s", "type": "nominal", "scale": {"domain": ["1 KHZ","10 KHz","100 KHZ","1 MHz"], "range": ["square","circle","triangle-up","triangle-down"]},
      "legend": {"title": null, "orient": "none", "legendX": 145.5, "legendY": 18, "labelFontSize": 20, "rowPadding": 11}}
   }},
  {"data": {"values": [{"T": 37.2, "v": 71.5, "label": "(e)"}]}, "mark": {"type": "text", "font": "Liberation Serif", "fontWeight": "bold", "fontSize": 26, "align": "left", "baseline": "middle", "color": "black"},
   "encoding": {"text": {"field": "label", "type": "nominal"}}},
  {"data": {"values": [{"T": 39.35, "v": 50.0, "label": "hy-BZ/PVDF"}]}, "mark": {"type": "text", "font": "Liberation Serif", "fontWeight": "bold", "fontSize": 23, "align": "left", "baseline": "middle", "color": "black"},
   "encoding": {"text": {"field": "label", "type": "nominal"}}}
 ]
},
{
 "width": 425, "height": 392,
 "data": {"values": [
{"T":30,"v":0.026,"s":"1 KHz"},{"T":32,"v":0.035,"s":"1 KHz"},{"T":34,"v":0.047,"s":"1 KHz"},{"T":36,"v":0.06,"s":"1 KHz"},{"T":38,"v":0.067,"s":"1 KHz"},{"T":40,"v":0.077,"s":"1 KHz"},{"T":42,"v":0.084,"s":"1 KHz"},{"T":44,"v":0.093,"s":"1 KHz"},{"T":46,"v":0.104,"s":"1 KHz"},{"T":48,"v":0.116,"s":"1 KHz"},{"T":50,"v":0.135,"s":"1 KHz"},{"T":52,"v":0.152,"s":"1 KHz"},{"T":54,"v":0.17,"s":"1 KHz"},{"T":56,"v":0.186,"s":"1 KHz"},{"T":58,"v":0.2,"s":"1 KHz"},{"T":60,"v":0.229,"s":"1 KHz"},{"T":62,"v":0.254,"s":"1 KHz"},{"T":64,"v":0.28,"s":"1 KHz"},{"T":66,"v":0.306,"s":"1 KHz"},{"T":68,"v":0.331,"s":"1 KHz"},{"T":70,"v":0.367,"s":"1 KHz"},{"T":72,"v":0.396,"s":"1 KHz"},{"T":74,"v":0.429,"s":"1 KHz"},{"T":76,"v":0.464,"s":"1 KHz"},{"T":78,"v":0.498,"s":"1 KHz"},{"T":80,"v":0.541,"s":"1 KHz"},{"T":82,"v":0.575,"s":"1 KHz"},{"T":84,"v":0.614,"s":"1 KHz"},{"T":86,"v":0.653,"s":"1 KHz"},{"T":88,"v":0.686,"s":"1 KHz"},{"T":90,"v":0.73,"s":"1 KHz"},{"T":92,"v":0.773,"s":"1 KHz"},{"T":94,"v":0.823,"s":"1 KHz"},{"T":96,"v":0.877,"s":"1 KHz"},{"T":98,"v":0.926,"s":"1 KHz"},{"T":100,"v":0.97,"s":"1 KHz"},{"T":102,"v":1.018,"s":"1 KHz"},{"T":104,"v":1.07,"s":"1 KHz"},{"T":106,"v":1.14,"s":"1 KHz"},{"T":108,"v":1.2,"s":"1 KHz"},{"T":110,"v":1.245,"s":"1 KHz"},{"T":112,"v":1.3,"s":"1 KHz"},{"T":114,"v":1.36,"s":"1 KHz"},{"T":116,"v":1.42,"s":"1 KHz"},{"T":118,"v":1.477,"s":"1 KHz"},{"T":120,"v":1.557,"s":"1 KHz"},
{"T":30,"v":0.015,"s":"10 KHZ"},{"T":32,"v":0.019,"s":"10 KHZ"},{"T":34,"v":0.024,"s":"10 KHZ"},{"T":36,"v":0.028,"s":"10 KHZ"},{"T":38,"v":0.031,"s":"10 KHZ"},{"T":40,"v":0.033,"s":"10 KHZ"},{"T":42,"v":0.036,"s":"10 KHZ"},{"T":44,"v":0.039,"s":"10 KHZ"},{"T":46,"v":0.041,"s":"10 KHZ"},{"T":48,"v":0.043,"s":"10 KHZ"},{"T":50,"v":0.044,"s":"10 KHZ"},{"T":52,"v":0.049,"s":"10 KHZ"},{"T":54,"v":0.055,"s":"10 KHZ"},{"T":56,"v":0.061,"s":"10 KHZ"},{"T":58,"v":0.069,"s":"10 KHZ"},{"T":60,"v":0.077,"s":"10 KHZ"},{"T":62,"v":0.085,"s":"10 KHZ"},{"T":64,"v":0.093,"s":"10 KHZ"},{"T":66,"v":0.105,"s":"10 KHZ"},{"T":68,"v":0.12,"s":"10 KHZ"},{"T":70,"v":0.135,"s":"10 KHZ"},{"T":72,"v":0.149,"s":"10 KHZ"},{"T":74,"v":0.164,"s":"10 KHZ"},{"T":76,"v":0.178,"s":"10 KHZ"},{"T":78,"v":0.193,"s":"10 KHZ"},{"T":80,"v":0.208,"s":"10 KHZ"},{"T":82,"v":0.222,"s":"10 KHZ"},{"T":84,"v":0.237,"s":"10 KHZ"},{"T":86,"v":0.253,"s":"10 KHZ"},{"T":88,"v":0.27,"s":"10 KHZ"},{"T":90,"v":0.287,"s":"10 KHZ"},{"T":92,"v":0.307,"s":"10 KHZ"},{"T":94,"v":0.328,"s":"10 KHZ"},{"T":96,"v":0.35,"s":"10 KHZ"},{"T":98,"v":0.373,"s":"10 KHZ"},{"T":100,"v":0.396,"s":"10 KHZ"},{"T":102,"v":0.419,"s":"10 KHZ"},{"T":104,"v":0.442,"s":"10 KHZ"},{"T":106,"v":0.464,"s":"10 KHZ"},{"T":108,"v":0.485,"s":"10 KHZ"},{"T":110,"v":0.505,"s":"10 KHZ"},{"T":112,"v":0.515,"s":"10 KHZ"},{"T":114,"v":0.535,"s":"10 KHZ"},{"T":116,"v":0.575,"s":"10 KHZ"},{"T":118,"v":0.607,"s":"10 KHZ"},{"T":120,"v":0.665,"s":"10 KHZ"},
{"T":30,"v":0.026,"s":"100 KHZ"},{"T":32,"v":0.027,"s":"100 KHZ"},{"T":34,"v":0.028,"s":"100 KHZ"},{"T":36,"v":0.027,"s":"100 KHZ"},{"T":38,"v":0.025,"s":"100 KHZ"},{"T":40,"v":0.023,"s":"100 KHZ"},{"T":42,"v":0.023,"s":"100 KHZ"},{"T":44,"v":0.023,"s":"100 KHZ"},{"T":46,"v":0.024,"s":"100 KHZ"},{"T":48,"v":0.025,"s":"100 KHZ"},{"T":50,"v":0.026,"s":"100 KHZ"},{"T":52,"v":0.026,"s":"100 KHZ"},{"T":54,"v":0.026,"s":"100 KHZ"},{"T":56,"v":0.027,"s":"100 KHZ"},{"T":58,"v":0.028,"s":"100 KHZ"},{"T":60,"v":0.029,"s":"100 KHZ"},{"T":62,"v":0.03,"s":"100 KHZ"},{"T":64,"v":0.032,"s":"100 KHZ"},{"T":66,"v":0.034,"s":"100 KHZ"},{"T":68,"v":0.036,"s":"100 KHZ"},{"T":70,"v":0.038,"s":"100 KHZ"},{"T":72,"v":0.04,"s":"100 KHZ"},{"T":74,"v":0.042,"s":"100 KHZ"},{"T":76,"v":0.045,"s":"100 KHZ"},{"T":78,"v":0.05,"s":"100 KHZ"},{"T":80,"v":0.055,"s":"100 KHZ"},{"T":82,"v":0.061,"s":"100 KHZ"},{"T":84,"v":0.067,"s":"100 KHZ"},{"T":86,"v":0.073,"s":"100 KHZ"},{"T":88,"v":0.078,"s":"100 KHZ"},{"T":90,"v":0.084,"s":"100 KHZ"},{"T":92,"v":0.091,"s":"100 KHZ"},{"T":94,"v":0.098,"s":"100 KHZ"},{"T":96,"v":0.105,"s":"100 KHZ"},{"T":98,"v":0.113,"s":"100 KHZ"},{"T":100,"v":0.12,"s":"100 KHZ"},{"T":102,"v":0.128,"s":"100 KHZ"},{"T":104,"v":0.135,"s":"100 KHZ"},{"T":106,"v":0.142,"s":"100 KHZ"},{"T":108,"v":0.15,"s":"100 KHZ"},{"T":110,"v":0.157,"s":"100 KHZ"},{"T":112,"v":0.167,"s":"100 KHZ"},{"T":114,"v":0.178,"s":"100 KHZ"},{"T":116,"v":0.186,"s":"100 KHZ"},{"T":118,"v":0.176,"s":"100 KHZ"},{"T":120,"v":0.186,"s":"100 KHZ"},
{"T":30,"v":0.055,"s":"1 MHz"},{"T":32,"v":0.052,"s":"1 MHz"},{"T":34,"v":0.05,"s":"1 MHz"},{"T":36,"v":0.047,"s":"1 MHz"},{"T":38,"v":0.044,"s":"1 MHz"},{"T":40,"v":0.041,"s":"1 MHz"},{"T":42,"v":0.038,"s":"1 MHz"},{"T":44,"v":0.035,"s":"1 MHz"},{"T":46,"v":0.033,"s":"1 MHz"},{"T":48,"v":0.033,"s":"1 MHz"},{"T":50,"v":0.033,"s":"1 MHz"},{"T":52,"v":0.031,"s":"1 MHz"},{"T":54,"v":0.03,"s":"1 MHz"},{"T":56,"v":0.028,"s":"1 MHz"},{"T":58,"v":0.027,"s":"1 MHz"},{"T":60,"v":0.026,"s":"1 MHz"},{"T":62,"v":0.026,"s":"1 MHz"},{"T":64,"v":0.026,"s":"1 MHz"},{"T":66,"v":0.026,"s":"1 MHz"},{"T":68,"v":0.026,"s":"1 MHz"},{"T":70,"v":0.026,"s":"1 MHz"},{"T":72,"v":0.026,"s":"1 MHz"},{"T":74,"v":0.025,"s":"1 MHz"},{"T":76,"v":0.024,"s":"1 MHz"},{"T":78,"v":0.022,"s":"1 MHz"},{"T":80,"v":0.026,"s":"1 MHz"},{"T":82,"v":0.027,"s":"1 MHz"},{"T":84,"v":0.028,"s":"1 MHz"},{"T":86,"v":0.029,"s":"1 MHz"},{"T":88,"v":0.029,"s":"1 MHz"},{"T":90,"v":0.029,"s":"1 MHz"},{"T":92,"v":0.03,"s":"1 MHz"},{"T":94,"v":0.032,"s":"1 MHz"},{"T":96,"v":0.033,"s":"1 MHz"},{"T":98,"v":0.033,"s":"1 MHz"},{"T":100,"v":0.034,"s":"1 MHz"},{"T":102,"v":0.036,"s":"1 MHz"},{"T":104,"v":0.039,"s":"1 MHz"},{"T":106,"v":0.041,"s":"1 MHz"},{"T":108,"v":0.042,"s":"1 MHz"},{"T":110,"v":0.044,"s":"1 MHz"},{"T":112,"v":0.045,"s":"1 MHz"},{"T":114,"v":0.047,"s":"1 MHz"},{"T":116,"v":0.048,"s":"1 MHz"},{"T":118,"v":0.05,"s":"1 MHz"},{"T":120,"v":0.052,"s":"1 MHz"}
 ]},
 "encoding": {
  "x": {"field": "T", "type": "quantitative", "scale": {"domain": [29.8, 120.2], "nice": false, "zero": false},
        "axis": {"title": "T(°C)", "values": [30,35,40,45,50,55,60,65,70,75,80,85,90,95,100,105,110,115,120], "labelExpr": "datum.value % 10 === 0 ? datum.label : ''", "tickDash": {"condition": {"test": "datum.value % 10 === 0", "value": [30, 2]}, "value": [10, 40]}, "labelPadding": 42, "minExtent": 45, "maxExtent": 45, "titlePadding": 22}},
  "y": {"field": "v", "type": "quantitative", "scale": {"domain": [-0.104, 1.6], "nice": false, "zero": false},
        "axis": {"title": "tan δ", "titleFontSize": 27, "values": [0,0.1,0.2,0.3,0.4,0.5,0.6,0.7,0.8,0.9,1.0,1.1,1.2,1.3,1.4,1.5,1.6], "format": ".1f", "labelExpr": "round(datum.value*10) % 2 === 0 ? datum.label : ''", "tickDash": {"condition": {"test": "round(datum.value*10) % 2 === 0", "value": [30, 2]}, "value": [10, 40]}, "labelPadding": 42, "minExtent": 45, "maxExtent": 45, "titlePadding": 26.5}}
 },
 "layer": [
  {"mark": {"type": "line", "strokeWidth": 1.5}, "encoding": {"color": {"field": "s", "type": "nominal", "scale": {"domain": ["1 KHz","10 KHZ","100 KHZ","1 MHz"], "range": ["#000000","#ff0000","#0000ff","#ff00ff"]}, "legend": null}}},
  {"mark": {"type": "point", "filled": true, "size": 64, "opacity": 1},
   "encoding": {
    "color": {"field": "s", "type": "nominal", "scale": {"domain": ["1 KHz","10 KHZ","100 KHZ","1 MHz"], "range": ["#000000","#ff0000","#0000ff","#ff00ff"]},
      "legend": {"title": null, "orient": "none", "legendX": 147.5, "legendY": 30, "labelFontSize": 20, "rowPadding": 11}},
    "shape": {"field": "s", "type": "nominal", "scale": {"domain": ["1 KHz","10 KHZ","100 KHZ","1 MHz"], "range": ["square","circle","triangle-up","triangle-down"]},
      "legend": {"title": null, "orient": "none", "legendX": 147.5, "legendY": 30, "labelFontSize": 20, "rowPadding": 11}}
   }},
  {"data": {"values": [{"T": 36.7, "v": 1.492, "label": "(f)"}]}, "mark": {"type": "text", "font": "Liberation Serif", "fontWeight": "bold", "fontSize": 26, "align": "left", "baseline": "middle", "color": "black"},
   "encoding": {"text": {"field": "label", "type": "nominal"}}},
  {"data": {"values": [{"T": 39.75, "v": 0.792, "label": "hy-BZ/PVDF"}]}, "mark": {"type": "text", "font": "Liberation Serif", "fontWeight": "bold", "fontSize": 23, "align": "left", "baseline": "middle", "color": "black"},
   "encoding": {"text": {"field": "label", "type": "nominal"}}}
 ]
}
]
}
]
}
]
}
